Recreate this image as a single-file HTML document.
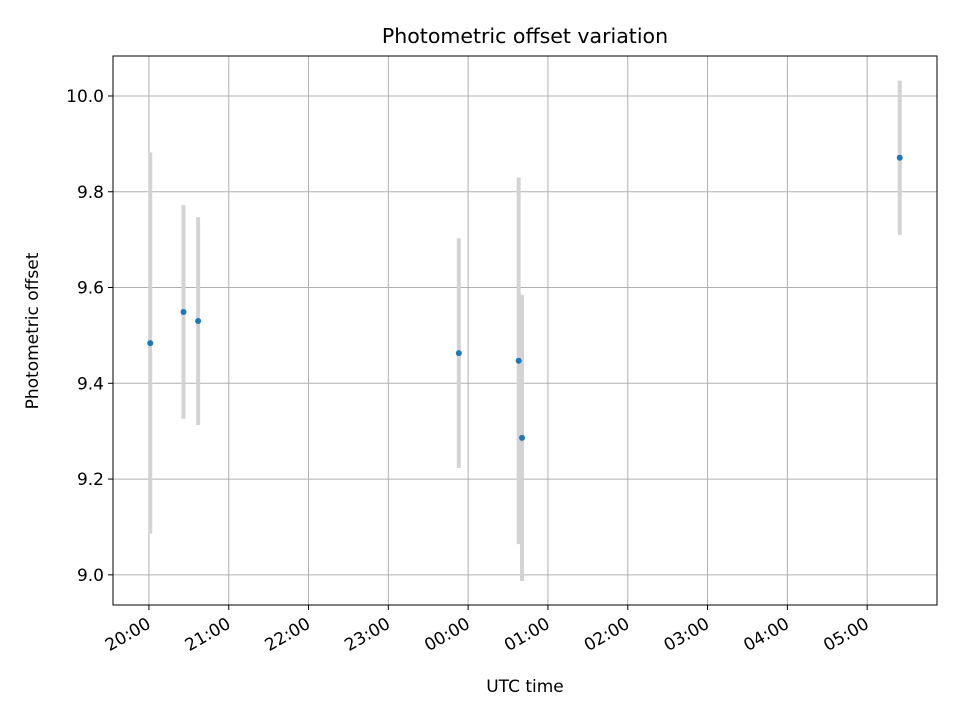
<!DOCTYPE html>
<html><head><meta charset="utf-8"><style>
body{margin:0;background:#fff;font-family:"Liberation Sans","DejaVu Sans",sans-serif}
svg text{font-family:"DejaVu Sans","Liberation Sans",sans-serif}
</style></head><body>
<svg id="chart" width="960" height="720" xmlns="http://www.w3.org/2000/svg">
<rect width="960" height="720" fill="#fff"/>
<g id="grid"></g><g id="marks"></g><g id="axes"></g>
<text x="525" y="43" text-anchor="middle" font-size="20.5">Photometric offset variation</text>
<text x="525" y="692" text-anchor="middle" font-size="17">UTC time</text>
<text transform="translate(38,331) rotate(-90)" text-anchor="middle" font-size="17">Photometric offset</text>
</svg>
<script>
// minutes after 20:00 UTC
const times=[1,26,37,233,278,280.5,564.5];
const offsets=[9.484,9.549,9.530,9.463,9.447,9.286,9.871];
const errors=[0.398,0.223,0.217,0.240,0.383,0.299,0.161];
const xTickLabels=["20:00","21:00","22:00","23:00","00:00","01:00","02:00","03:00","04:00","05:00"];
const yTickLabels=["9.0","9.2","9.4","9.6","9.8","10.0"];
const X0=113,X1=937,Y0=56,Y1=605;
const xMin=-27,xMax=592.5,yMin=8.937,yMax=10.0835;
const xs=v=>X0+(v-xMin)/(xMax-xMin)*(X1-X0);
const ys=v=>Y1-(v-yMin)/(yMax-yMin)*(Y1-Y0);
const NS="http://www.w3.org/2000/svg";
function mk(t,a,p){const e=document.createElementNS(NS,t);for(const k in a)e.setAttribute(k,a[k]);p.appendChild(e);return e;}
const grid=document.getElementById('grid'),marks=document.getElementById('marks'),axes=document.getElementById('axes');
xTickLabels.forEach((l,i)=>{const x=xs(i*60);
const g=mk('line',{x1:x,x2:x,y1:Y0,y2:Y1,stroke:'#b0b0b0','stroke-width':1},grid);


const t=mk('line',{x1:x,x2:x,y1:Y1,y2:Y1+5,stroke:'#000'},axes);


const tx=mk('text',{x:x+3,y:Y1+22,'font-size':17,'text-anchor':'end',transform:`rotate(-30 ${x+3} ${Y1+22})`},axes);
tx.textContent=l;

});
yTickLabels.forEach(l=>{const y=ys(parseFloat(l));
const g=mk('line',{x1:X0,x2:X1,y1:y,y2:y,stroke:'#b0b0b0','stroke-width':1},grid);


const t=mk('line',{x1:X0-5,x2:X0,y1:y,y2:y,stroke:'#000'},axes);


const tx=mk('text',{x:X0-9,y:y+6,'font-size':17,'text-anchor':'end'},axes);
tx.textContent=l;

});
const fr=mk('rect',{x:X0,y:Y0,width:X1-X0,height:Y1-Y0,fill:'none',stroke:'#000','stroke-width':1},axes);


times.forEach((t,i)=>{const x=xs(t);
const e=mk('line',{x1:x,x2:x,y1:ys(offsets[i]+errors[i]),y2:ys(offsets[i]-errors[i]),stroke:'#d3d3d3','stroke-width':4},marks);

});
times.forEach((t,i)=>{
const c=mk('circle',{cx:xs(t),cy:ys(offsets[i]),r:3,fill:'#1f77b4'},marks);

});
</script>
</body></html>
